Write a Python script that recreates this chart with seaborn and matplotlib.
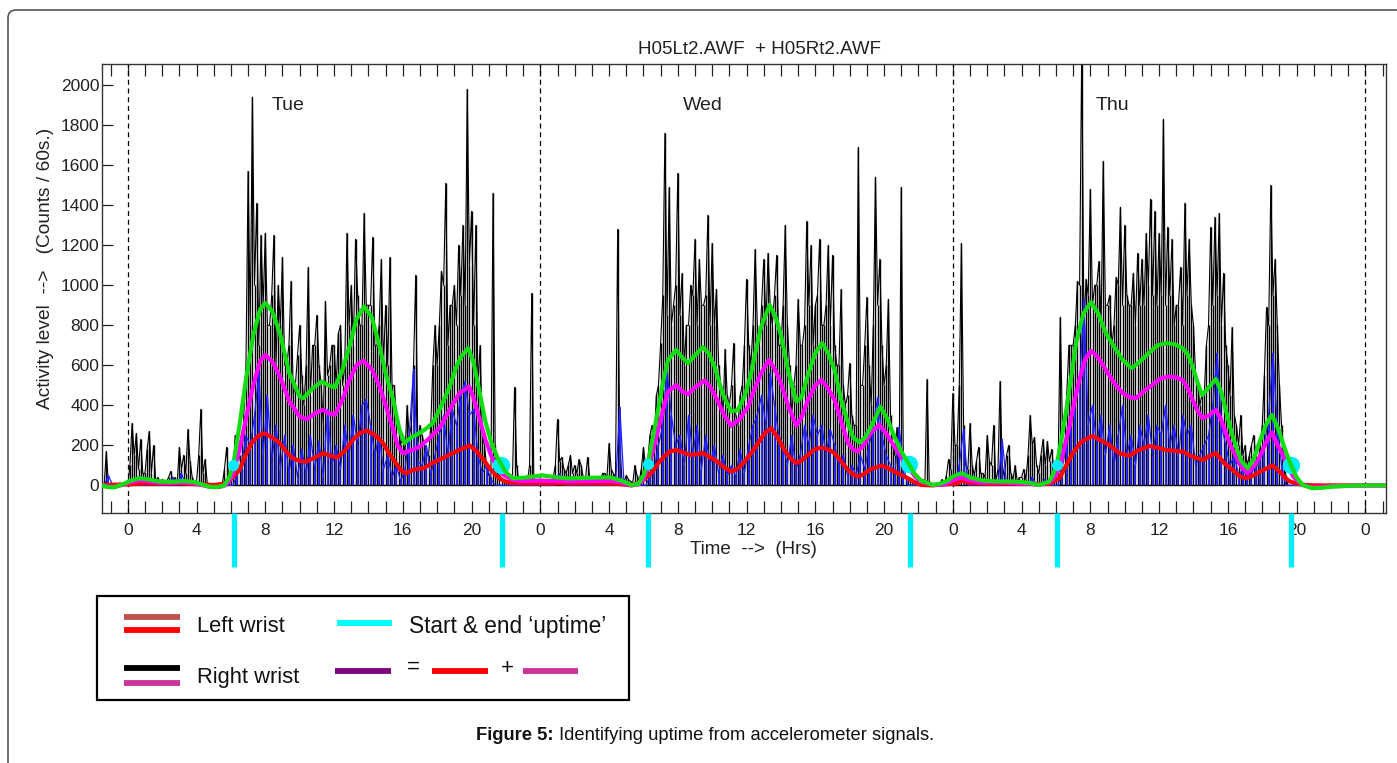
import numpy as np
import matplotlib
matplotlib.use("Agg")
import matplotlib.pyplot as plt
import seaborn as sns
from matplotlib.patches import Rectangle, FancyBboxPatch
from matplotlib.lines import Line2D
from matplotlib.transforms import IdentityTransform

sns.set_theme(style="white")
plt.rcParams['font.family'] = ['Liberation Sans', 'DejaVu Sans']

# ---------------- data ----------------
TITLE = "H05Lt2.AWF  + H05Rt2.AWF"
DAY_NAMES = ["Tue", "Wed", "Thu"]
DAY_STARTS = [0, 24, 48, 72]
DAY_LABEL_HOUR = [8.35, 32.3, 56.3]

# raw right-wrist activity, 0.25 h steps starting at -2 h (one row per hour)
right_raw = [
    0, 0, 0, 170,          # -2
    0, 0, 0, 0,            # -1
    0, 310, 260, 230,      # 0
    60, 270, 200, 40,      # 1
    30, 20, 70, 40,        # 2
    190, 150, 280, 40,     # 3
    20, 380, 130, 10,      # 4
    0, 0, 10, 190,         # 5
    60, 250, 150, 350,     # 6
    1570, 1940, 1410, 1250,  # 7
    1260, 800, 1250, 1000,   # 8
    1140, 600, 1020, 500,    # 9
    800, 400, 1090, 700,     # 10
    850, 500, 920, 600,      # 11
    700, 760, 500, 1260,     # 12
    1000, 1230, 800, 1360,   # 13
    900, 1240, 700, 1130,    # 14
    900, 1140, 500, 300,     # 15
    250, 400, 300, 1050,     # 16
    300, 200, 150, 600,      # 17
    600, 1070, 1510, 900,    # 18
    1000, 1200, 1300, 1980,  # 19
    1370, 1300, 700, 200,    # 20
    50, 1460, 60, 30,        # 21
    20, 30, 490, 20,         # 22
    10, 20, 960, 10,         # 23
    0, 20, 0, 40,            # 24
    330, 140, 60, 150,       # 25
    100, 130, 40, 140,       # 26
    20, 40, 30, 60,          # 27
    210, 60, 1280, 30,       # 28
    50, 20, 100, 20,         # 29
    190, 120, 300, 450,      # 30
    710, 1760, 1490, 900,    # 31
    1560, 1060, 800, 1000,   # 32
    1230, 1130, 900, 1350,   # 33
    1210, 980, 500, 680,     # 34
    400, 710, 300, 500,      # 35
    1030, 600, 1180, 700,    # 36
    1130, 1160, 800, 1150,   # 37
    700, 1300, 600, 500,     # 38
    930, 700, 1320, 1200,    # 39
    900, 1230, 800, 1200,    # 40
    1150, 600, 980, 400,     # 41
    610, 300, 1690, 500,     # 42
    940, 400, 1540, 1130,    # 43
    500, 930, 200, 290,      # 44
    1490, 50, 30, 20,        # 45
    20, 30, 530, 10,         # 46
    0, 10, 0, 130,           # 47
    460, 200, 1210, 100,     # 48
    310, 50, 190, 60,        # 49
    250, 100, 20, 520,       # 50
    40, 200, 30, 20,         # 51
    40, 30, 350, 240,        # 52
    60, 230, 220, 180,       # 53
    50, 840, 300, 700,       # 54
    700, 1020, 2200, 1030,   # 55
    1480, 1000, 1120, 1620,  # 56
    900, 700, 1040, 1390,    # 57
    1300, 900, 1060, 1160,   # 58
    1130, 1260, 1430, 1370,  # 59
    1260, 1830, 1290, 1230,  # 60
    900, 1090, 1410, 1230,   # 61
    800, 500, 460, 700,      # 62
    1290, 1340, 1360, 1060,  # 63
    600, 790, 300, 350,      # 64
    200, 150, 250, 100,      # 65
    300, 890, 1500, 1130,    # 66
    500, 150, 0, 0,          # 67
    0, 0, 0, 0,              # 68
    0, 0, 0, 0,              # 69
    0, 0, 0, 0,              # 70
    0, 0, 0, 0,              # 71
    0, 0, 0, 0,              # 72
    0, 0, 0, 0,              # 73
]

# right-wrist readings in between, 0.25 h steps starting at -1.875 h
right_raw_mid = [
    0, 0, 0, 0,            # -2
    0, 0, 0, 0,            # -1
    100, 150, 80, 60,      # 0
    180, 60, 20, 10,       # 1
    10, 40, 20, 10,        # 2
    80, 60, 120, 20,       # 3
    150, 60, 10, 0,        # 4
    0, 0, 80, 20,          # 5
    40, 120, 80, 600,      # 6
    800, 1000, 700, 900,   # 7
    800, 950, 600, 800,    # 8
    600, 700, 450, 650,    # 9
    550, 600, 450, 700,    # 10
    600, 300, 550, 700,    # 11
    500, 800, 600, 800,    # 12
    700, 950, 800, 900,    # 13
    900, 700, 800, 600,    # 14
    600, 500, 350, 200,    # 15
    150, 250, 600, 200,    # 16
    250, 150, 300, 800,    # 17
    800, 1000, 700, 900,   # 18
    800, 950, 900, 1100,   # 19
    800, 500, 250, 100,    # 20
    40, 200, 50, 20,       # 21
    10, 20, 100, 30,       # 22
    10, 100, 20, 10,       # 23
    10, 30, 20, 100,       # 24
    120, 80, 100, 60,      # 25
    60, 100, 30, 40,       # 26
    30, 20, 60, 40,        # 27
    80, 40, 200, 20,       # 28
    30, 10, 50, 80,        # 29
    100, 250, 200, 500,    # 30
    950, 850, 800, 1000,   # 31
    850, 600, 800, 950,    # 32
    800, 900, 950, 800,    # 33
    800, 600, 350, 450,    # 34
    500, 350, 450, 700,    # 35
    700, 800, 800, 900,    # 36
    800, 900, 950, 700,    # 37
    900, 800, 350, 600,    # 38
    700, 800, 900, 700,    # 39
    950, 800, 900, 800,    # 40
    700, 600, 500, 450,    # 41
    350, 300, 500, 700,    # 42
    600, 800, 900, 700,    # 43
    600, 350, 150, 100,    # 44
    60, 40, 30, 20,        # 45
    20, 10, 20, 10,        # 46
    10, 30, 50, 80,        # 47
    200, 500, 300, 80,     # 48
    100, 120, 60, 40,      # 49
    120, 300, 80, 100,     # 50
    150, 60, 100, 40,      # 51
    80, 150, 200, 100,     # 52
    150, 100, 120, 80,     # 53
    100, 300, 450, 700,    # 54
    800, 1000, 800, 950,   # 55
    900, 1000, 800, 900,   # 56
    950, 800, 1000, 900,   # 57
    950, 900, 800, 900,    # 58
    900, 1000, 950, 900,   # 59
    950, 900, 950, 800,    # 60
    900, 800, 950, 900,    # 61
    550, 400, 450, 800,    # 62
    900, 950, 800, 700,    # 63
    450, 350, 200, 150,    # 64
    100, 200, 150, 200,    # 65
    550, 800, 950, 800,    # 66
    300, 50, 0, 0,         # 67
    0, 0, 0, 0,            # 68
    0, 0, 0, 0,            # 69
    0, 0, 0, 0,            # 70
    0, 0, 0, 0,            # 71
    0, 0, 0, 0,            # 72
]

# raw left-wrist activity, 0.25 h steps starting at -1.875 h
left_raw = [
    0, 0, 0, 50,           # -2
    0, 0, 0, 0,            # -1
    0, 0, 0, 0,            # 0
    0, 0, 0, 0,            # 1
    0, 0, 40, 0,           # 2
    60, 0, 0, 0,           # 3
    0, 0, 0, 0,            # 4
    0, 0, 0, 0,            # 5
    0, 60, 100, 250,       # 6
    200, 350, 560, 150,    # 7
    450, 120, 300, 80,     # 8
    250, 60, 200, 40,      # 9
    180, 50, 250, 80,      # 10
    220, 40, 380, 100,     # 11
    200, 80, 300, 150,     # 12
    350, 200, 400, 430,    # 13
    300, 150, 250, 80,     # 14
    150, 40, 100, 20,      # 15
    80, 250, 580, 120,     # 16
    100, 200, 50, 150,     # 17
    250, 350, 150, 380,    # 18
    300, 450, 520, 350,    # 19
    380, 150, 60, 100,     # 20
    30, 0, 0, 0,           # 21
    0, 0, 0, 0,            # 22
    0, 0, 0, 0,            # 23
    0, 0, 0, 0,            # 24
    60, 0, 0, 0,           # 25
    0, 0, 0, 0,            # 26
    0, 0, 0, 0,            # 27
    0, 0, 390, 0,          # 28
    0, 0, 0, 0,            # 29
    0, 40, 80, 200,        # 30
    300, 580, 350, 200,    # 31
    250, 100, 350, 150,    # 32
    300, 80, 250, 100,     # 33
    200, 60, 150, 50,      # 34
    100, 40, 180, 60,      # 35
    200, 300, 350, 450,    # 36
    300, 560, 400, 250,    # 37
    200, 100, 250, 80,     # 38
    150, 300, 200, 350,    # 39
    250, 300, 150, 280,    # 40
    200, 100, 150, 50,     # 41
    100, 50, 150, 80,      # 42
    200, 300, 440, 250,    # 43
    150, 100, 60, 290,     # 44
    100, 0, 0, 0,          # 45
    0, 0, 0, 0,            # 46
    0, 0, 0, 0,            # 47
    0, 100, 280, 0,        # 48
    0, 0, 0, 0,            # 49
    0, 0, 0, 230,          # 50
    0, 0, 0, 0,            # 51
    0, 0, 40, 0,           # 52
    0, 30, 0, 0,           # 53
    0, 100, 200, 300,      # 54
    450, 500, 930, 300,    # 55
    400, 200, 350, 150,    # 56
    300, 100, 250, 400,    # 57
    150, 250, 100, 300,    # 58
    200, 350, 150, 300,    # 59
    250, 400, 200, 300,    # 60
    150, 350, 250, 300,    # 61
    100, 150, 200, 250,    # 62
    400, 660, 300, 200,    # 63
    100, 150, 50, 80,      # 64
    40, 60, 100, 150,      # 65
    200, 350, 660, 300,    # 66
    100, 0, 0, 0,          # 67
    0, 0, 0, 0,            # 68
    0, 0, 0, 0,            # 69
    0, 0, 0, 0,            # 70
    0, 0, 0, 0,            # 71
    0, 0, 0, 0,            # 72
]

# smoothed curves (hour, value)
sum_hours = [-1.5, -1.2, -0.8, -0.3, 0.2, 0.7, 1.2, 1.8, 2.5, 3.2, 3.8, 4.3, 4.8, 5.3, 5.6, 5.9, 6.13, 6.5, 6.9, 7.3, 7.7, 8.0, 8.4, 8.85, 9.4, 10.0, 10.2, 10.7, 11.26, 11.7, 12.05, 12.5, 12.9, 13.3, 13.75, 14.2, 14.65, 15.0, 15.44, 15.8, 16.1, 16.4, 16.8, 17.3, 17.75, 18.25, 18.73, 19.1, 19.4, 19.8, 20.1, 20.48, 20.8, 21.16, 21.5, 21.74, 22.0, 22.4, 23.0, 23.67, 24.1, 25.0, 25.6, 26.8, 28.1, 28.7, 29.3, 29.7, 30.0, 30.26, 30.55, 30.85, 31.15, 31.43, 31.9, 32.25, 32.6, 33.0, 33.46, 33.8, 34.14, 34.6, 35.1, 35.5, 35.9, 36.27, 36.55, 36.85, 37.34, 37.7, 38.02, 38.45, 38.9, 39.2, 39.6, 40.0, 40.4, 40.75, 41.12, 41.5, 41.9, 42.2, 42.57, 42.9, 43.25, 43.79, 44.2, 44.6, 45.0, 45.47, 45.8, 46.15, 46.83, 47.3, 47.7, 48.0, 48.5, 49.0, 49.74, 50.5, 51.7, 52.5, 53.0, 53.6, 53.8, 54.04, 54.3, 54.6, 54.9, 55.17, 55.6, 56.04, 56.45, 56.9, 57.4, 57.88, 58.4, 58.9, 59.4, 59.9, 60.4, 60.9, 61.37, 61.7, 61.95, 62.25, 62.5, 62.8, 63.3, 63.6, 63.88, 64.2, 64.47, 64.8, 65.15, 65.5, 65.82, 66.2, 66.56, 66.9, 67.2, 67.45, 67.67, 68.0, 68.35, 68.9, 69.5, 70.1, 71.0, 72.0, 73.2]
sum_values = [0, -8, -10, 5, 25, 36, 30, 20, 18, 22, 18, 5, -8, -8, 0, 40, 100, 300, 544, 750, 880, 911, 870, 761, 560, 444, 435, 480, 519, 500, 489, 580, 694, 830, 894, 840, 694, 560, 428, 280, 211, 235, 253, 280, 311, 400, 494, 590, 644, 686, 620, 461, 320, 211, 140, 103, 65, 36, 38, 45, 50, 40, 35, 38, 40, 24, 2, 7, 50, 110, 240, 377, 520, 627, 677, 640, 611, 650, 691, 660, 594, 460, 369, 377, 450, 561, 680, 794, 902, 840, 744, 560, 419, 440, 560, 661, 711, 660, 577, 430, 311, 240, 214, 240, 294, 394, 330, 244, 170, 102, 55, 24, 2, 10, 24, 44, 61, 40, 24, 20, 19, 12, 2, 19, 50, 102, 220, 377, 550, 711, 860, 916, 860, 761, 690, 627, 586, 620, 661, 700, 711, 705, 686, 650, 594, 510, 452, 480, 532, 470, 377, 270, 194, 120, 86, 130, 211, 300, 352, 290, 211, 150, 102, 40, 2, -14, -12, -6, -2, 0, 0]

left_smooth_hours = [-1.5, 0, 1.0, 2.0, 3.0, 4.0, 5.0, 5.7, 6.1, 6.5, 6.85, 7.2, 7.6, 7.94, 8.4, 8.85, 9.2, 9.6, 10.0, 10.4, 10.9, 11.36, 11.8, 12.15, 12.6, 13.1, 13.5, 13.9, 14.4, 14.85, 15.2, 15.6, 15.9, 16.2, 16.7, 17.2, 17.8, 18.5, 19.3, 19.9, 20.3, 20.7, 21.1, 21.5, 21.9, 22.3, 23.0, 24.0, 25.0, 27.0, 28.5, 29.3, 29.9, 30.45, 30.85, 31.2, 31.55, 31.9, 32.3, 32.7, 33.1, 33.46, 33.9, 34.3, 34.7, 35.1, 35.5, 35.88, 36.3, 36.66, 37.05, 37.44, 37.8, 38.2, 38.55, 38.9, 39.2, 39.57, 39.95, 40.35, 40.75, 41.12, 41.5, 41.9, 42.2, 42.47, 42.8, 43.2, 43.83, 44.2, 44.6, 45.0, 45.38, 45.8, 46.15, 46.8, 47.5, 48.3, 48.5, 49.0, 50.0, 52.0, 53.6, 54.2, 54.6, 54.97, 55.5, 56.13, 56.6, 57.1, 57.7, 58.26, 58.8, 59.43, 59.9, 60.4, 61.37, 61.9, 62.53, 62.9, 63.3, 63.8, 64.28, 64.7, 65.05, 65.5, 65.9, 66.6, 67.0, 67.3, 67.6, 67.96, 68.5, 69.0, 73.2]
left_smooth_values = [2, 5, 10, 8, 10, 6, 2, 10, 40, 78, 150, 211, 248, 261, 240, 211, 170, 136, 122, 119, 140, 161, 148, 139, 170, 228, 262, 274, 250, 211, 160, 111, 75, 61, 80, 86, 115, 144, 178, 199, 170, 128, 80, 44, 22, 12, 10, 10, 10, 10, 8, 0, 20, 60, 110, 144, 170, 177, 165, 152, 156, 161, 140, 119, 90, 69, 85, 119, 165, 211, 260, 286, 240, 177, 135, 111, 125, 152, 180, 189, 180, 161, 120, 77, 55, 44, 55, 80, 99, 88, 69, 52, 36, 15, 2, 0, 5, 10, 24, 12, 8, 8, 7, 36, 100, 161, 220, 247, 225, 202, 160, 149, 175, 197, 188, 177, 169, 145, 127, 145, 161, 110, 77, 45, 36, 50, 70, 99, 70, 40, 20, 10, 2, 0, 0]

right_smooth_hours = [-1.5, -1.2, -0.8, -0.3, 0.2, 0.7, 1.2, 1.8, 2.5, 3.2, 3.8, 4.3, 4.8, 5.3, 5.6, 5.9, 6.13, 6.5, 6.9, 7.3, 7.7, 8.0, 8.4, 8.85, 9.4, 10.0, 10.4, 10.9, 11.36, 11.7, 12.05, 12.5, 12.9, 13.3, 13.7, 14.2, 14.65, 15.0, 15.44, 15.7, 16.0, 16.5, 17.0, 17.6, 18.2, 18.8, 19.3, 19.85, 20.1, 20.48, 20.8, 21.16, 21.5, 21.8, 22.4, 23.0, 24.0, 25.5, 27.0, 28.1, 28.7, 29.3, 29.7, 30.0, 30.26, 30.55, 30.85, 31.15, 31.43, 31.9, 32.25, 32.6, 33.0, 33.56, 33.9, 34.3, 34.7, 35.1, 35.6, 36.1, 36.5, 36.85, 37.3, 37.65, 38.0, 38.45, 38.9, 39.2, 39.57, 40.0, 40.35, 40.7, 41.12, 41.5, 41.9, 42.2, 42.47, 42.8, 43.2, 43.73, 44.2, 44.6, 45.0, 45.38, 45.8, 46.15, 46.83, 47.5, 48.0, 48.5, 49.0, 49.74, 51.0, 52.5, 53.0, 53.6, 54.0, 54.3, 54.78, 55.1, 55.36, 55.7, 56.04, 56.45, 56.9, 57.4, 57.88, 58.3, 58.65, 59.1, 59.6, 60.1, 60.6, 61.0, 61.37, 61.7, 61.95, 62.25, 62.53, 62.9, 63.3, 63.6, 63.88, 64.2, 64.47, 64.8, 65.15, 65.5, 65.82, 66.2, 66.56, 66.9, 67.2, 67.5, 67.8, 68.35, 68.9, 70.0, 71.0, 72.0, 73.2]
right_smooth_values = [0, -6, -8, 3, 18, 25, 22, 14, 12, 15, 12, 2, -8, -8, -2, 20, 60, 180, 344, 500, 620, 652, 620, 544, 420, 344, 331, 360, 378, 360, 353, 430, 528, 600, 623, 580, 494, 400, 278, 200, 161, 175, 194, 240, 294, 390, 461, 494, 440, 328, 230, 144, 90, 55, 27, 22, 24, 20, 22, 22, 14, 0, 5, 30, 86, 170, 277, 380, 469, 502, 470, 456, 490, 524, 490, 427, 350, 299, 330, 394, 490, 561, 627, 580, 511, 390, 299, 340, 427, 500, 527, 490, 427, 320, 211, 180, 169, 200, 260, 302, 250, 194, 140, 94, 45, 19, 2, 5, 25, 40, 25, 15, 14, 8, 2, 15, 50, 120, 294, 430, 527, 630, 672, 640, 577, 510, 461, 440, 436, 470, 502, 535, 544, 540, 527, 480, 427, 370, 336, 350, 377, 330, 261, 190, 144, 90, 61, 95, 136, 210, 264, 200, 152, 90, 44, 2, -10, -5, -2, 0, 0]

uptime_start = [6.13, 30.26, 54.04]
uptime_end = [21.74, 45.47, 67.67]
uptime_level = [100, 108, 102]
uptime_bars = [6.2, 21.75, 30.25, 45.5, 54.05, 67.65]

Y_TICKS = list(range(0, 2001, 200))
X_TICK_HOURS = list(range(-1, 74))

# ---------------- figure ----------------
W, H = 1397, 763
fig = plt.figure(figsize=(W / 100, H / 100), dpi=100)
fig.patch.set_facecolor('white')

def fx(px):
    return px / W

def fy(py):
    return 1 - py / H

ax = fig.add_axes([fx(102), fy(513), fx(1386) - fx(102), fy(64) - fy(513)])
ax.set_facecolor('white')

t_main = -2.0 + 0.25 * np.arange(len(right_raw))
t_mid = -1.875 + 0.25 * np.arange(len(right_raw_mid))
t_right = np.concatenate([t_main, t_mid])
v_right = np.concatenate([right_raw, right_raw_mid])
order = np.argsort(t_right)
t_right, v_right = t_right[order], v_right[order]
t_left = -1.875 + 0.25 * np.arange(len(left_raw))

# raw signals (spiky traces)
ax.axhline(0, color='black', lw=1.0, zorder=1.8)
ax.vlines(t_right, 0, v_right, color='black', lw=1.0, zorder=2)
sns.lineplot(x=t_right, y=v_right, ax=ax, color='black', lw=0.8,
             estimator=None, sort=False, legend=False, zorder=2)
ax.vlines(t_left, 0, left_raw, color='#1f1fff', lw=1.25, zorder=3)
sns.lineplot(x=t_left, y=left_raw, ax=ax, color='#2020ff', lw=0.9,
             estimator=None, sort=False, legend=False, zorder=3)

# day separators
for d in DAY_STARTS:
    ax.axvline(d, color='black', lw=0.9, ls=(0, (4, 3)), zorder=1.5)

# smoothed curves
sns.lineplot(x=left_smooth_hours, y=left_smooth_values, ax=ax, color='#ff0000',
             lw=3.0, estimator=None, sort=False, legend=False, zorder=4)
sns.lineplot(x=right_smooth_hours, y=right_smooth_values, ax=ax, color='#ff00ff',
             lw=3.0, estimator=None, sort=False, legend=False, zorder=5)
ax.plot(uptime_end, uptime_level, 'o', color='#00eeff', ms=11.5, mec='#00eeff',
        zorder=5.5)
sns.lineplot(x=sum_hours, y=sum_values, ax=ax, color='#11dd11',
             lw=3.0, estimator=None, sort=False, legend=False, zorder=6)
ax.plot(uptime_start, uptime_level, 'o', color='#00eeff', ms=7, mec='#00eeff',
        zorder=7)

# uptime bars below the axis
ax.vlines(uptime_bars, -407, -138, color='#00eeff', lw=3.8, clip_on=False,
          zorder=10)

# day names
for h, name in zip(DAY_LABEL_HOUR, DAY_NAMES):
    ax.text(h, 1897, name, ha='left', va='center', fontsize=14, color='#222222')

ax.set_xlim(-1.5, 73.2)
ax.set_ylim(-138, 2106)
ax.set_xticks(X_TICK_HOURS)
ax.set_xticklabels([str(h % 24) if (h % 4 == 0 and 0 <= h <= 72) else ''
                    for h in X_TICK_HOURS])
ax.set_yticks(Y_TICKS)
ax.set_yticklabels([str(v) for v in Y_TICKS])
ax.tick_params(axis='x', which='both', direction='in', length=8.4, width=0.9,
               top=True, bottom=True, labelsize=12.5, pad=7, colors='#222222')
ax.tick_params(axis='y', which='both', direction='in', length=8, width=0.9,
               left=True, right=False, labelsize=12.5, pad=2, colors='#222222')
for s in ax.spines.values():
    s.set_color('#333333')
    s.set_linewidth(1.0)
ax.grid(False)
ax.set_xlabel('')
ax.set_ylabel('')

# titles / labels
fig.text(fx(759), fy(49), TITLE, ha='center', va='center', fontsize=13.5,
         color='#222222')
fig.text(fx(46), fy(268), "Activity level  -->   (Counts / 60s.)", rotation=90,
         ha='center', va='center', fontsize=13.8, color='#222222')
fig.text(fx(753), fy(550), "Time  -->  (Hrs)", ha='center', va='center',
         fontsize=13.5, color='#222222')

# legend box (hand drawn like the original)
fig.add_artist(Rectangle((fx(97.5), fy(700)), fx(628.5) - fx(97.5), fy(596) - fy(700),
                         transform=fig.transFigure, fill=False, ec='black', lw=1.6))

def seg(x0, x1, y, color):
    fig.add_artist(Line2D([fx(x0), fx(x1)], [fy(y), fy(y)], transform=fig.transFigure,
                          color=color, lw=4.2, solid_capstyle='butt'))

seg(124, 180, 616.5, '#c0504d')
seg(124, 180, 630, '#ff0000')
seg(124, 180, 668, '#000000')
seg(124, 180, 682.5, '#cc3399')
seg(337, 392, 622.5, '#00ffff')
seg(335, 391, 671, '#800080')
seg(432, 488, 671, '#ff0000')
seg(523, 578, 671, '#cc3399')
fig.text(fx(197), fy(626), "Left wrist", ha='left', va='center', fontsize=15.8, color='#111111')
fig.text(fx(197), fy(678), "Right wrist", ha='left', va='center', fontsize=15.8, color='#111111')
fig.text(fx(409), fy(627), "Start & end \u2018uptime\u2019", ha='left', va='center',
         fontsize=16.3, color='#111111')
fig.text(fx(413.5), fy(667), "=", ha='center', va='center', fontsize=15.8, color='#111111')
fig.text(fx(507.5), fy(668), "+", ha='center', va='center', fontsize=15.8, color='#111111')

# caption
fig.text(fx(553), fy(735), "Figure 5:", ha='right', va='center', fontsize=13.2,
         fontweight='bold', color='#111111')
fig.text(fx(559), fy(735), "Identifying uptime from accelerometer signals.", ha='left',
         va='center', fontsize=13.2, color='#111111')

# outer rounded frame (runs off the right and bottom edges)
fig.add_artist(FancyBboxPatch((8, -30), 1430, 753 + 30, boxstyle="round,pad=0,rounding_size=8",
                              transform=IdentityTransform(), fill=False, ec='#555555', lw=1.2))

fig.savefig("out.png", dpi=100, facecolor='white')
